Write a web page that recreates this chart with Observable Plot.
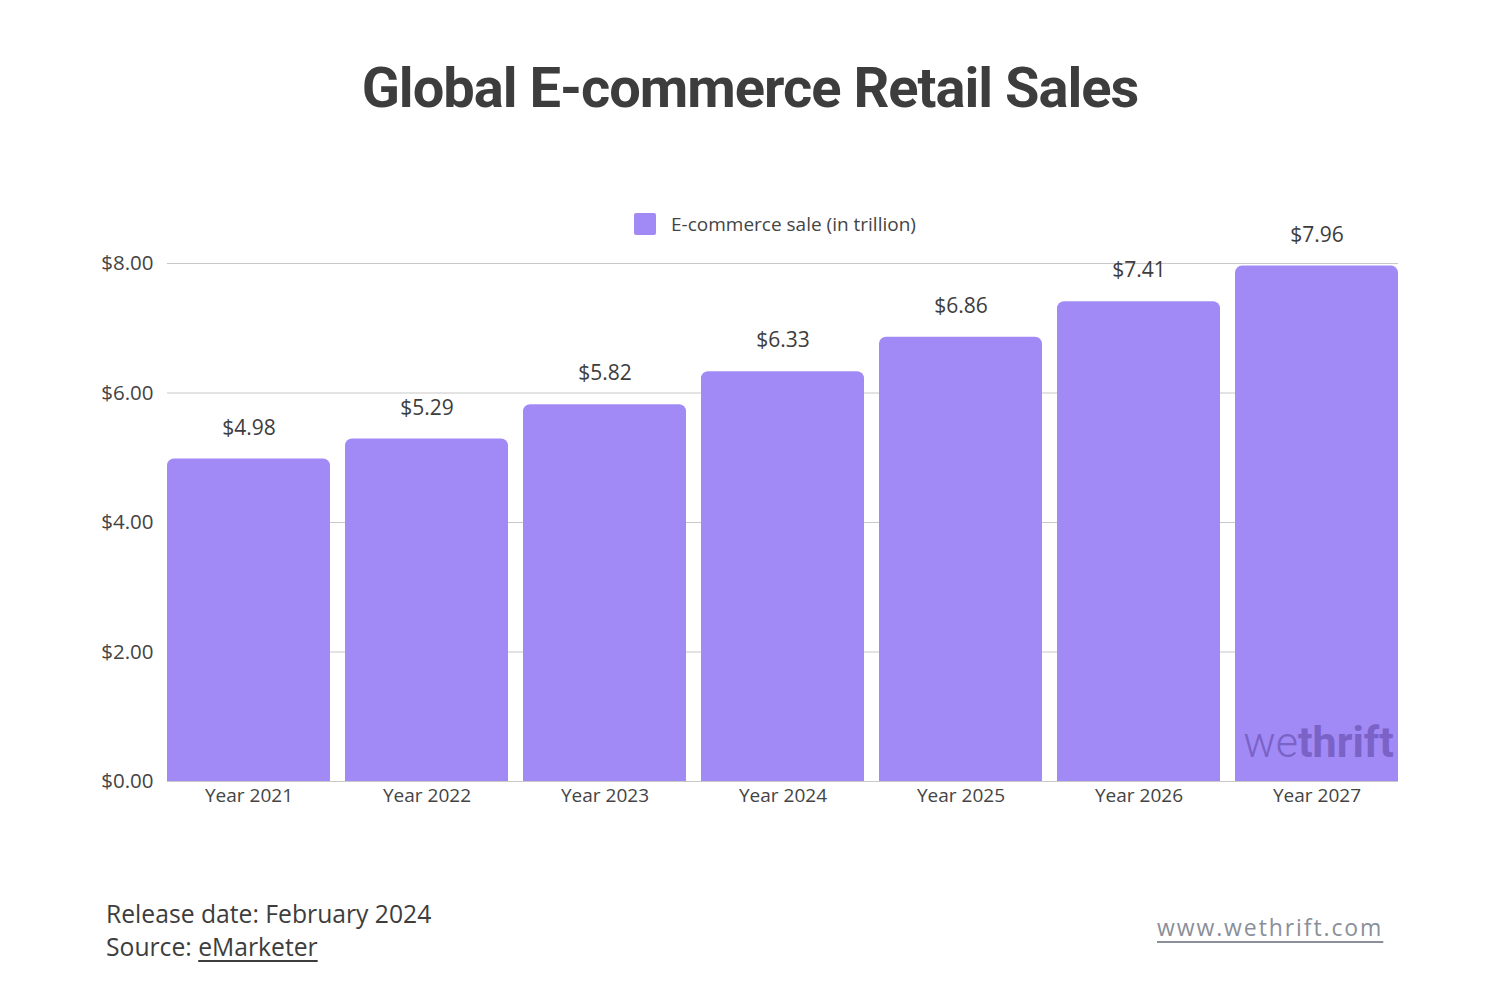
<!DOCTYPE html>
<html>
<head>
<meta charset="utf-8">
<script src="https://cdn.jsdelivr.net/npm/d3@7"></script>
<script src="https://cdn.jsdelivr.net/npm/@observablehq/plot@0.6"></script>
<style>
  body { margin: 0; background: #fff; }
  #page { position: relative; width: 1500px; height: 1000px; font-family: "Open Sans", sans-serif; color: #3d3d3d; overflow: hidden; }
  #title { position: absolute; top: 55px; left: 0; width: 1500px; text-align: center; font-family: Roboto, sans-serif; font-weight: 700; font-size: 56px; letter-spacing: -1px; color: #3d3d3d; }
  #legend { position: absolute; top: 211px; left: 634px; display: flex; align-items: center; font-size: 19px; color: #444; }
  #legend .sw { width: 22px; height: 22px; background: #a28af6; border-radius: 2px; margin-right: 15px; }
  #chart { position: absolute; top: 180px; left: 0; }
  #notes { position: absolute; top: 897px; left: 106px; font-size: 24.7px; line-height: 33px; color: #3d3d3d; }
  #notes u { text-underline-offset: 4px; }
  #site { position: absolute; top: 911px; left: 1157px; font-size: 23px; letter-spacing: 1.9px; color: #8a8f99; text-decoration: underline; text-underline-offset: 5px; }
</style>
</head>
<body>
<div id="page">
  <div id="title">Global E-commerce Retail Sales</div>
  <div id="chart"></div>
  <div id="legend"><div class="sw"></div>E-commerce sale (in trillion)</div>
  <div id="notes">Release date: February 2024<br>Source: <u>eMarketer</u></div>
  <div id="site">www.wethrift.com</div>
</div>
<script>
const years = ["Year 2021", "Year 2022", "Year 2023", "Year 2024", "Year 2025", "Year 2026", "Year 2027"]
const sales = [4.98, 5.29, 5.82, 6.33, 6.86, 7.41, 7.96]
const yTicks = [0, 2, 4, 6, 8]

const data = years.map((year, i) => ({year, value: sales[i]}))
const purple = '#a28af6'
const money = d => `$${d.toFixed(2)}`

let chart = Plot.plot({
  width: 1500,
  height: 660,
  marginTop: 83,
  marginBottom: 59,
  marginLeft: 167,
  marginRight: 102,
  style: {fontFamily: '"Open Sans", sans-serif', color: '#444', overflow: 'visible'},
  x: {domain: years, paddingInner: 0.085, paddingOuter: 0, label: null},
  y: {domain: [0, 8], label: null},
  marks: [
    Plot.gridY(yTicks, {stroke: '#c8c8c8', strokeOpacity: 1, strokeWidth: 1.2}),
    Plot.axisY(yTicks, {tickFormat: money, tickSize: 0, tickPadding: 14, fontSize: 20.5, label: null}),
    Plot.axisX({tickSize: 0, tickPadding: 7, fontSize: 19, label: null}),
    Plot.barY(data, {x: 'year', y: 'value', fill: purple, rx: 7}),
    // square off the bottom corners
    Plot.barY(data, {x: 'year', y1: 0, y2: d => d.value - 0.5, fill: purple}),
    Plot.text(data, {x: 'year', y: 'value', text: d => money(d.value), dy: -31, fontSize: 21, fill: '#3d3d3d'}),
    Plot.text(data.slice(-1), {x: 'year', y: 0, text: () => 'we', dx: -19, dy: -38, textAnchor: 'end', fontSize: 43, fontWeight: 300, fill: '#7a62c6', fontFamily: 'Roboto, sans-serif', letterSpacing: '-2px'}),
    Plot.text(data.slice(-1), {x: 'year', y: 0, text: () => 'thrift', dx: -19, dy: -38, textAnchor: 'start', fontSize: 43, fontWeight: 700, fill: '#7a62c6', fontFamily: 'Roboto, sans-serif', letterSpacing: '-3px'})
  ]
})

d3.select('#chart').append(() => chart)
</script>
</body>
</html>
